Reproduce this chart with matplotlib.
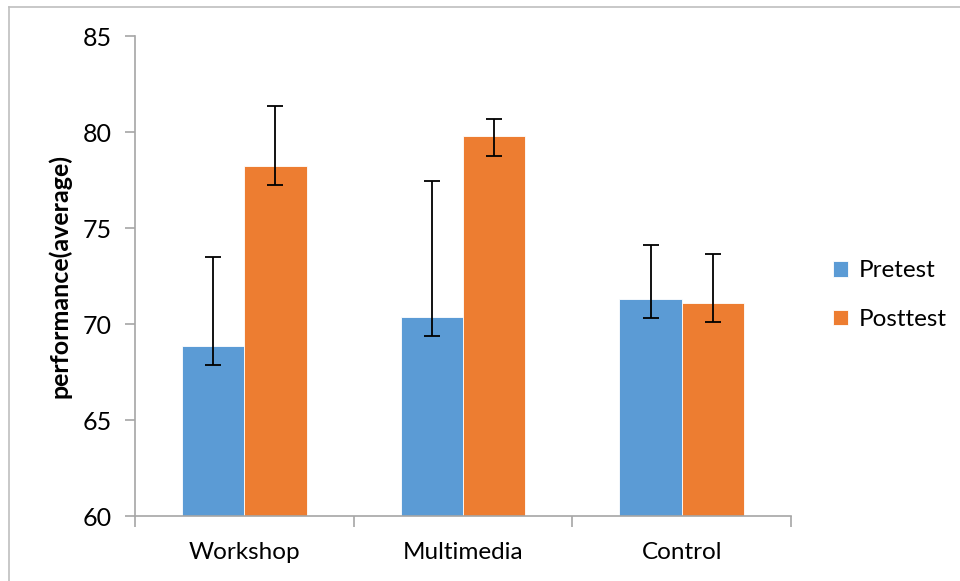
import matplotlib
matplotlib.use('Agg')
import matplotlib.pyplot as plt
from matplotlib.lines import Line2D
import numpy as np

plt.rcParams['font.family'] = ['Lato', 'DejaVu Sans']

### Data ###

groups = ['Workshop', 'Multimedia', 'Control']
pretest = [68.87, 70.35, 71.32]
posttest = [78.23, 79.77, 71.09]
pre_err_lo = [1.0, 1.0, 1.0]
pre_err_hi = [4.6, 7.08, 2.77]
post_err_lo = [1.0, 1.0, 1.0]
post_err_hi = [3.1, 0.91, 2.53]

BLUE = '#5B9BD5'
ORANGE = '#ED7D31'
GREY = '#A6A6A6'

fig = plt.figure(figsize=(9.6, 5.81), dpi=100)
ax = fig.add_axes([135 / 960, 1 - 516 / 581, 656 / 960, 480 / 581])

x = np.arange(len(groups))
w = 0.285
err_kw = dict(ecolor='black', elinewidth=1.3, capsize=6, capthick=1.3)
ax.bar(x - w / 2, np.array(pretest) - 60, w, bottom=60, color=BLUE,
       edgecolor='white', linewidth=0.6, label='Pretest',
       yerr=[pre_err_lo, pre_err_hi], error_kw=err_kw)
ax.bar(x + w / 2, np.array(posttest) - 60, w, bottom=60, color=ORANGE,
       edgecolor='white', linewidth=0.6, label='Posttest',
       yerr=[post_err_lo, post_err_hi], error_kw=err_kw)

ax.set_xlim(-0.5, len(groups) - 0.5)
ax.set_ylim(60, 85)
ax.set_yticks(range(60, 86, 5))
ax.set_xticks(x)
ax.set_xticklabels(groups)
ax.set_xticks(np.arange(-0.5, len(groups), 1.0), minor=True)

for s in ['top', 'right']:
    ax.spines[s].set_visible(False)
for s in ['left', 'bottom']:
    ax.spines[s].set_color(GREY)
    ax.spines[s].set_linewidth(1.2)

ax.tick_params(axis='y', length=7, width=1.2, color=GREY, labelsize=18,
               pad=10)
ax.tick_params(axis='x', which='major', length=0, labelsize=17.5, pad=19)
ax.tick_params(axis='x', which='minor', length=8, width=1.2, color=GREY)

ax.set_ylabel('performance(average)', fontsize=18, fontweight='bold',
              labelpad=8)

ax.legend(loc='center left', bbox_to_anchor=(1.03, 0.46), frameon=False,
          fontsize=17.5, handlelength=0.62, handleheight=0.62,
          handletextpad=0.45, labelspacing=1.15)

# chart-area border (only top and left edges are in frame)
fig.add_artist(Line2D([9 / 960, 9 / 960], [0, 1 - 7 / 581],
                      color='#BFBFBF', linewidth=1.2))
fig.add_artist(Line2D([9 / 960, 1], [1 - 7 / 581, 1 - 7 / 581],
                      color='#BFBFBF', linewidth=1.2))

fig.savefig('out.png', dpi=100)
